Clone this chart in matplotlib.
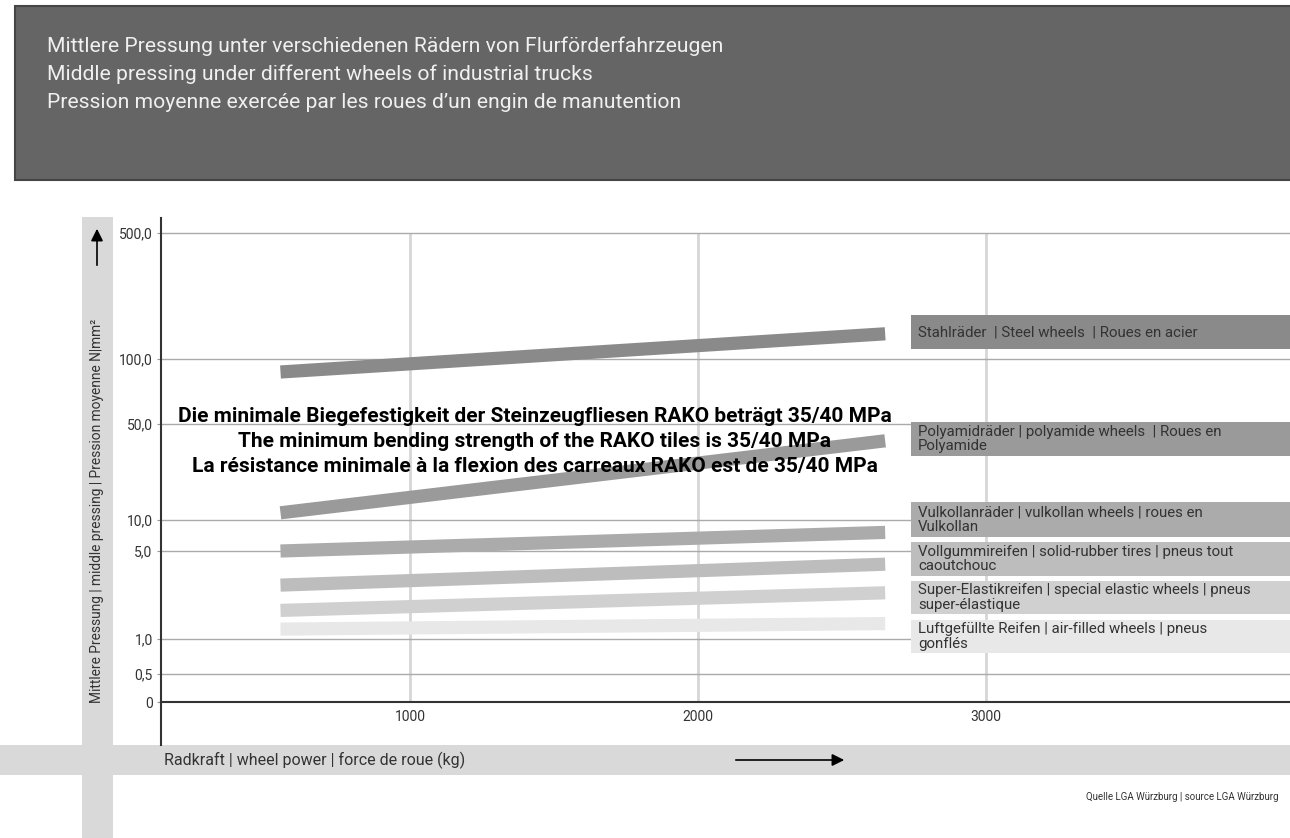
import matplotlib.pyplot as plt
import numpy as np
from matplotlib.patches import Rectangle, FancyArrowPatch
from matplotlib.lines import Line2D

plt.rcParams['font.family'] = ['Roboto', 'DejaVu Sans']

# wheel force (kg) at start and end of each band
force = [550, 2650]

# mean pressure N/mm2
steel = [90, 180]
polyamide = [13, 43]
vulkollan = [5.0, 8.0]
vollgummi = [3.45, 4.4]
super_el = [2.3, 3.1]
luft = [1.45, 1.7]

series = [steel, polyamide, vulkollan, vollgummi, super_el, luft]
colors = ['#8a8a8a', '#9a9a9a', '#ababab', '#bdbdbd', '#d0d0d0', '#e8e8e8']
labels = ['Stahlräder  | Steel wheels  | Roues en acier',
          'Polyamidräder | polyamide wheels  | Roues en\nPolyamide',
          'Vulkollanräder | vulkollan wheels | roues en\nVulkollan',
          'Vollgummireifen | solid-rubber tires | pneus tout\ncaoutchouc',
          'Super-Elastikreifen | special elastic wheels | pneus\nsuper-élastique',
          'Luftgefüllte Reifen | air-filled wheels | pneus\ngonflés']
# legend box top / bottom (pixels)
box_top = [315, 422, 502, 542, 581, 620]
box_bot = [349, 456, 537, 576, 614, 653]

# the y axis is not linear: tick values and how far up they sit
yticks = [0, 0.5, 1, 5, 10, 50, 100, 500]
ypos = [0, 28, 63, 151, 182, 278, 343, 469]
xticks = [1000, 2000, 3000]

vals_ext = [-10] + yticks + [5000]
pos_ext = [-560] + ypos + [469 + 4500 * 126 / 400]


def fwd(v):
    return np.interp(np.asarray(v, dtype=float), vals_ext, pos_ext)


def inv(p):
    return np.interp(np.asarray(p, dtype=float), pos_ext, vals_ext)


W, H = 1290, 838
fig = plt.figure(figsize=(12.9, 8.38), dpi=100)


def fx(px):
    return px / W


def fy(py):
    return 1 - py / H


# header band
fig.patches.append(Rectangle((fx(15), fy(180)), 1.0, (180 - 6) / H, transform=fig.transFigure,
                             facecolor='#656565', edgecolor='#454545', lw=1.5, zorder=0))
titles = ['Mittlere Pressung unter verschiedenen Rädern von Flurförderfahrzeugen',
          'Middle pressing under different wheels of industrial trucks',
          'Pression moyenne exercée par les roues d’un engin de manutention']
for i, t in enumerate(titles):
    fig.text(fx(47), fy(46 + 28 * i), t, color='#f0f0f0', fontsize=15.2, va='center')

# axis label bands
fig.patches.append(Rectangle((fx(82), 0), (113 - 82) / W, fy(217), transform=fig.transFigure,
                             facecolor='#d9d9d9', edgecolor='none', zorder=0))
fig.patches.append(Rectangle((0, fy(775)), 1, 30 / H, transform=fig.transFigure,
                             facecolor='#d9d9d9', edgecolor='none', zorder=0))

fig.text(fx(97), fy(703), 'Mittlere Pressung | middle pressing | Pression moyenne N|mm²',
         rotation=90, ha='center', va='bottom', fontsize=9.9, color='#333333')
fig.add_artist(FancyArrowPatch((fx(97), fy(268)), (fx(97), fy(226)), transform=fig.transFigure,
                               arrowstyle='-|>', mutation_scale=18, color='black', lw=1.2))
fig.text(fx(164), fy(760), 'Radkraft | wheel power | force de roue (kg)',
         ha='left', va='center', fontsize=11.5, color='#333333')
fig.add_artist(FancyArrowPatch((fx(733), fy(760)), (fx(847), fy(760)), transform=fig.transFigure,
                               arrowstyle='-|>', mutation_scale=18, color='black', lw=1.2))

# plot area
ax = fig.add_axes([fx(161), fy(702), 1 - fx(161), (702 - 218) / H])
ax.patch.set_visible(False)
ax.set_yscale('function', functions=(fwd, inv))
ax.set_xlim(135, 4056)
ax.set_ylim(0, float(inv(484)))

for s, c in zip(series, colors):
    ax.plot(force, s, color=c, lw=9.5, solid_capstyle='butt', zorder=3)

ax.set_yticks(yticks)
ax.set_yticklabels(['0' if v == 0 else f'{v:.1f}'.replace('.', ',') for v in yticks])
ax.set_xticks(xticks)
ax.set_xticklabels([str(v) for v in xticks])
ax.tick_params(axis='y', length=3, color='#999999', labelsize=10, labelcolor='#333333', pad=3)
ax.tick_params(axis='x', length=0, labelsize=10, labelcolor='#333333', pad=6)
ax.yaxis.grid(True, color='#aaaaaa', lw=1)
ax.set_axisbelow(True)
ax.vlines(xticks, 0, 500, color='#d6d6d6', lw=2, zorder=0.5)
for side in ['top', 'right']:
    ax.spines[side].set_visible(False)
ax.spines['left'].set_color('#333333')
ax.spines['left'].set_linewidth(1.5)
ax.spines['bottom'].set_color('#333333')
ax.spines['bottom'].set_linewidth(1.5)
fig.add_artist(Line2D([fx(161), fx(161)], [fy(745), fy(702)], color='#333333', lw=1.5))

# legend boxes on the right
for lab, c, t, b in zip(labels, colors, box_top, box_bot):
    fig.patches.append(Rectangle((fx(911), fy(b)), 1.0, (b - t) / H, transform=fig.transFigure,
                                 facecolor=c, edgecolor='none', zorder=1))
    fig.text(fx(918), fy((t + b) / 2), lab, ha='left', va='center', fontsize=10.8,
             color='#333333', linespacing=1.05, zorder=2)

note = ['Die minimale Biegefestigkeit der Steinzeugfliesen RAKO beträgt 35/40 MPa',
        'The minimum bending strength of the RAKO tiles is 35/40 MPa',
        'La résistance minimale à la flexion des carreaux RAKO est de 35/40 MPa']
for i, t in enumerate(note):
    fig.text(fx(535), fy(416 + 25 * i), t, ha='center', va='center', fontsize=15,
             fontweight='bold', color='black', zorder=5)

fig.text(fx(1278), fy(797), 'Quelle LGA Würzburg | source LGA Würzburg',
         ha='right', va='center', fontsize=7, color='#333333')

fig.savefig('out.png', dpi=100)
